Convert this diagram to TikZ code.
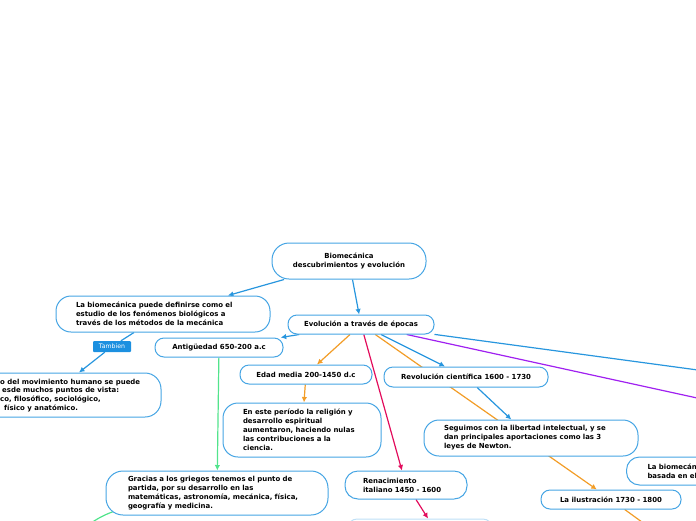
\documentclass[tikz,border=0pt]{standalone}
\usepackage{fontspec}
\setmainfont{DejaVu Sans}
\usetikzlibrary{arrows.meta,backgrounds}
\definecolor{borde}{RGB}{70,165,228}
\definecolor{azul}{RGB}{40,150,222}
\definecolor{naranja}{RGB}{242,157,40}
\definecolor{carmin}{RGB}{226,12,92}
\definecolor{morado}{RGB}{160,32,240}
\definecolor{verde}{RGB}{82,228,140}
\definecolor{etiqueta}{RGB}{28,144,224}

\begin{document}
\begin{tikzpicture}[x=1pt,y=-1pt,
  tema/.style={draw=borde,fill=white,line width=1pt,rounded corners=9,inner sep=0pt,
    font=\bfseries\fontsize{6.95}{8.9}\selectfont,align=center},
  nota/.style={tema,align=left,rounded corners=15},
  letra/.style={inner sep=0pt,align=left,font=\bfseries\fontsize{6.95}{8.9}\selectfont},
  enlace/.style={line width=1.2pt,-{Latex[length=5.5pt,width=5.5pt]}},
  linea/.style={line width=1.2pt}]
\useasboundingbox (0,0) rectangle (696,520);
\clip (0,0) rectangle (696,520);

\node [tema,minimum width=154,minimum height=36,rounded corners=17] (raiz) at (349,261) {Biomecánica\\descubrimientos y evolución};
\node [tema,minimum width=146,minimum height=19] (epocas) at (361,324.5) {Evolución a través de épocas};
\node [nota,text width=174,inner xsep=20,minimum height=36] (definicion) at (163,314)
  {La biomecánica puede definirse como el\\estudio de los fenómenos biológicos a\\través de los métodos de la mecánica};
\node [fill=etiqueta,text=white,rounded corners=1,minimum width=38,minimum height=11,inner sep=0pt,
  font=\fontsize{6.2}{7}\selectfont] (tambien) at (112,346.5) {Tambien};

\node [nota,minimum width=221,minimum height=44,rounded corners=16] (enfoques) at (50.5,395) {};
\node [letra,anchor=west] (enfoquestexto) at (0,395.5)
  {o del movimiento humano se puede\\\hspace*{2pt}esde muchos puntos de vista:\\co, filosófico, sociológico,\\\hspace*{4pt}físico y anatómico.};

\node [tema,minimum width=128,minimum height=19] (antiguedad) at (219,347.5) {Antigüedad 650-200 a.c};
\node [tema,minimum width=132,minimum height=19] (edadmedia) at (306,374.5) {Edad media 200-1450 d.c};
\node [nota,text width=118,inner xsep=20,minimum height=54] (periodo) at (302,430)
  {En este período la religión y\\desarrollo espiritual\\aumentaron, haciendo nulas\\las contribuciones a la\\ciencia.};
\node [tema,minimum width=164,minimum height=20] (revolucion) at (466,377) {Revolución científica 1600 - 1730};
\node [nota,text width=174,inner xsep=20,minimum height=36] (seguimos) at (531,438)
  {Seguimos con la libertad intelectual, y se\\dan principales aportaciones como las 3\\leyes de Newton.};
\node [nota,text width=178,inner xsep=22,minimum height=44,rounded corners=17] (gracias) at (217,493)
  {Gracias a los griegos tenemos el punto de\\partida, por su desarrollo en las\\matemáticas, astronomía, mecánica, física,\\geografía y medicina.};
\node [nota,text width=86,inner xsep=18,minimum height=28,rounded corners=13] (renacimiento) at (406,485)
  {Renacimiento\\italiano 1450 - 1600};
\node [tema,minimum width=140,minimum height=19] (ilustracion) at (611,499.5) {La ilustración 1730 - 1800};
\node [nota,anchor=west,text width=150,inner xsep=21,minimum height=28,rounded corners=13] (dato) at (626,471)
  {La biomecán\\basada en el};
\node [tema,minimum width=144,minimum height=40,draw=borde!35] (siguiente) at (420,539) {};

\coordinate (fueraazul) at (720,373);
\coordinate (fueramorado) at (720,403);
\coordinate (fueranaranja) at (668,541);
\coordinate (fueraverde) at (70,540);

\begin{pgfonlayer}{background}
\draw [enlace,azul] (raiz)--(epocas);
\draw [enlace,azul] (raiz)--(definicion);
\draw [linea,azul] (definicion)--(tambien);
\draw [enlace,azul] (tambien)--(enfoques);
\draw [enlace,azul] (epocas)--(antiguedad);
\draw [enlace,naranja] (epocas)--(edadmedia);
\draw [enlace,naranja] (edadmedia)--(periodo);
\draw [enlace,carmin] (epocas)--(renacimiento);
\draw [enlace,carmin] ([xshift=10]renacimiento.south)--([xshift=8]siguiente.north);
\draw [enlace,azul] (epocas)--(revolucion);
\draw [enlace,azul] (revolucion)--(seguimos);
\draw [enlace,naranja] (epocas)--(ilustracion);
\draw [linea,azul] (epocas)--(fueraazul);
\draw [linea,morado] (epocas)--(fueramorado);
\draw [linea,naranja] (ilustracion)--(fueranaranja);
\draw [enlace,verde] (antiguedad)--(gracias);
\draw [linea,verde] ([shift={(8,-4)}]gracias.south west) to[out=200,in=40] (fueraverde);
\end{pgfonlayer}
\end{tikzpicture}
\end{document}
